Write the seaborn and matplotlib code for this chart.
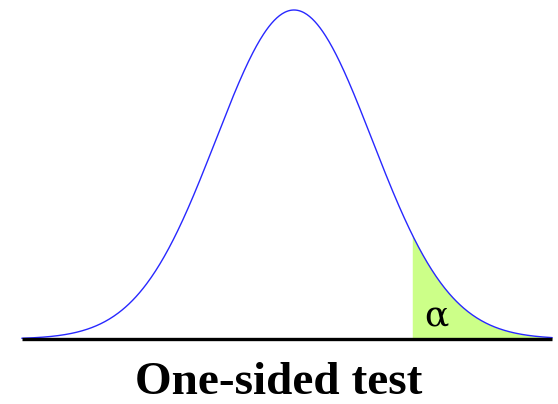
import numpy as np
import pandas as pd
import matplotlib
matplotlib.use("Agg")
import matplotlib.pyplot as plt
import seaborn as sns

# Standard normal test statistic, drawn over its plotted range
z_min, z_max = -3.49, 3.31
z_critical = 1.51
title_text = "One-sided test"
alpha_label = "α"

sns.set_theme(style="white")
plt.rcParams["font.family"] = ["Liberation Serif", "DejaVu Serif"]

z = np.linspace(z_min, z_max, 600)
density = np.exp(-z ** 2 / 2) / np.sqrt(2 * np.pi)
curve = pd.DataFrame({"z": z, "density": density})
tail = curve[curve["z"] >= z_critical]

fig = plt.figure(figsize=(5.58, 4.04), dpi=100)
ax = fig.add_axes([0, 0, 1, 1])

# pixel layout: centre at 294 px, 78 px per unit; peak at 10 px, baseline at 339 px
peak = 1 / np.sqrt(2 * np.pi)
scale = peak / 329.0
ax.set_xlim((0 - 294) / 78, (558 - 294) / 78)
ax.set_ylim(-(404 - 339) * scale, 339 * scale)

ax.fill_between(tail["z"], 0, tail["density"], color="#ccff88", linewidth=0, zorder=1)
sns.lineplot(data=curve, x="z", y="density", ax=ax, color="#2828ff",
             linewidth=1.0, zorder=3)
ax.plot([z_min, z_max], [0, 0], color="black", linewidth=2.4,
        solid_capstyle="butt", zorder=4)

ax.text((436 - 294) / 78, (339 - 316) * scale, alpha_label, fontsize=26,
        family="DejaVu Serif", ha="center", va="center", color="black", zorder=5)
ax.text(0.5, 1 - 383 / 404, title_text, transform=ax.transAxes, fontsize=34,
        fontweight="bold", ha="center", va="center", color="black")

ax.set_axis_off()
fig.savefig("out.png", dpi=100)
